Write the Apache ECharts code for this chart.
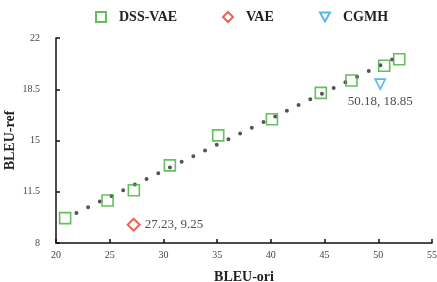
<!DOCTYPE html>
<html>
<head>
<meta charset="utf-8">
<script src="https://cdn.jsdelivr.net/npm/echarts@6/dist/echarts.min.js"></script>
<style>
  html, body { margin: 0; padding: 0; background: #fff; }
  #chart { width: 437px; height: 282px; }
</style>
</head>
<body>
<div id="chart"></div>
<script>
  // DSS-VAE points (BLEU-ori, BLEU-ref)
  var dssOri = [20.85, 24.8, 27.25, 30.6, 35.1, 40.1, 44.65, 47.5, 50.55, 51.95];
  var dssRef = [9.7, 10.9, 11.6, 13.3, 15.35, 16.45, 18.25, 19.1, 20.1, 20.55];
  // single baselines
  var vaePoint = [27.23, 9.25];
  var cgmhPoint = [50.18, 18.85];
  // trend line end points
  var trendOri = [21.9, 51.5];
  var trendRef = [10.05, 20.6];
  var yTicks = [8, 11.5, 15, 18.5, 22];

  var serif = '"Liberation Serif", "Times New Roman", serif';

  function pairs(xs, ys) {
    return xs.map(function (x, i) { return [x, ys[i]]; });
  }

  var chart = echarts.init(document.getElementById('chart'));
  chart.setOption({
    animation: false,
    grid: { left: 56, right: 5, top: 38, bottom: 39, outerBoundsMode: 'none' },
    legend: [
      { data: [{ name: 'DSS-VAE', icon: 'rect' }], left: 90 },
      { data: [{ name: 'VAE', icon: 'diamond' }], left: 217 },
      { data: [{ name: 'CGMH', icon: 'path://M0,0 L10,0 L5,9 Z' }], left: 314 }
    ].map(function (l) {
      l.top = 5;
      l.itemWidth = 10;
      l.itemHeight = 10;
      l.itemGap = 0;
      l.textStyle = { fontFamily: serif, fontWeight: 'bold', fontSize: 14, color: '#222', padding: [0, 0, 0, 8] };
      return l;
    }),
    xAxis: {
      type: 'value',
      min: 20, max: 55, interval: 5,
      name: 'BLEU-ori',
      nameLocation: 'middle',
      nameGap: 27,
      nameMoveOverlap: false,
      nameTextStyle: { fontFamily: serif, fontWeight: 'bold', fontSize: 14, color: '#222' },
      axisLine: { lineStyle: { color: '#111', width: 1.5 } },
      axisTick: { inside: true, length: 4, lineStyle: { color: '#111', width: 1.5 } },
      axisLabel: { fontFamily: serif, fontSize: 10, color: '#444', margin: 7 },
      splitLine: { show: false }
    },
    yAxis: {
      type: 'value',
      min: 8, max: 22,
      name: 'BLEU-ref',
      nameLocation: 'middle',
      nameGap: 39,
      nameMoveOverlap: false,
      nameTextStyle: { fontFamily: serif, fontWeight: 'bold', fontSize: 14, color: '#222' },
      axisLine: { show: true, lineStyle: { color: '#111', width: 1.5 } },
      axisTick: { show: true, inside: true, length: 4, customValues: yTicks, lineStyle: { color: '#111', width: 1.5 } },
      axisLabel: { fontFamily: serif, fontSize: 10, color: '#444', margin: 16, customValues: yTicks },
      splitLine: { show: false }
    },
    series: [
      {
        name: 'trend',
        type: 'line',
        data: pairs(trendOri, trendRef),
        symbol: 'none',
        silent: true,
        lineStyle: { color: '#555', width: 4, type: [0, 13], cap: 'round' },
        z: 1
      },
      {
        name: 'DSS-VAE',
        type: 'scatter',
        data: pairs(dssOri, dssRef),
        symbol: 'rect',
        symbolSize: 11,
        itemStyle: { color: 'rgba(255,255,255,0)', borderColor: '#3cb034', borderWidth: 1.6 },
        z: 3
      },
      {
        name: 'VAE',
        type: 'scatter',
        data: [vaePoint],
        symbol: 'diamond',
        symbolSize: 12,
        itemStyle: { color: 'rgba(255,255,255,0)', borderColor: '#e0402a', borderWidth: 2 },
        label: {
          show: true, position: 'right', distance: 4,
          formatter: function (p) { return p.value[0] + ', ' + p.value[1]; },
          fontFamily: serif, fontSize: 13, color: '#222'
        },
        z: 3
      },
      {
        name: 'CGMH',
        type: 'scatter',
        data: [cgmhPoint],
        symbol: 'triangle',
        symbolRotate: 180,
        symbolSize: 10,
        itemStyle: { color: 'rgba(255,255,255,0)', borderColor: '#2ea3e8', borderWidth: 1.6 },
        label: {
          show: true, position: 'bottom', distance: 5,
          formatter: function (p) { return p.value[0] + ', ' + p.value[1]; },
          fontFamily: serif, fontSize: 13, color: '#222'
        },
        z: 3
      }
    ]
  });
</script>
</body>
</html>
